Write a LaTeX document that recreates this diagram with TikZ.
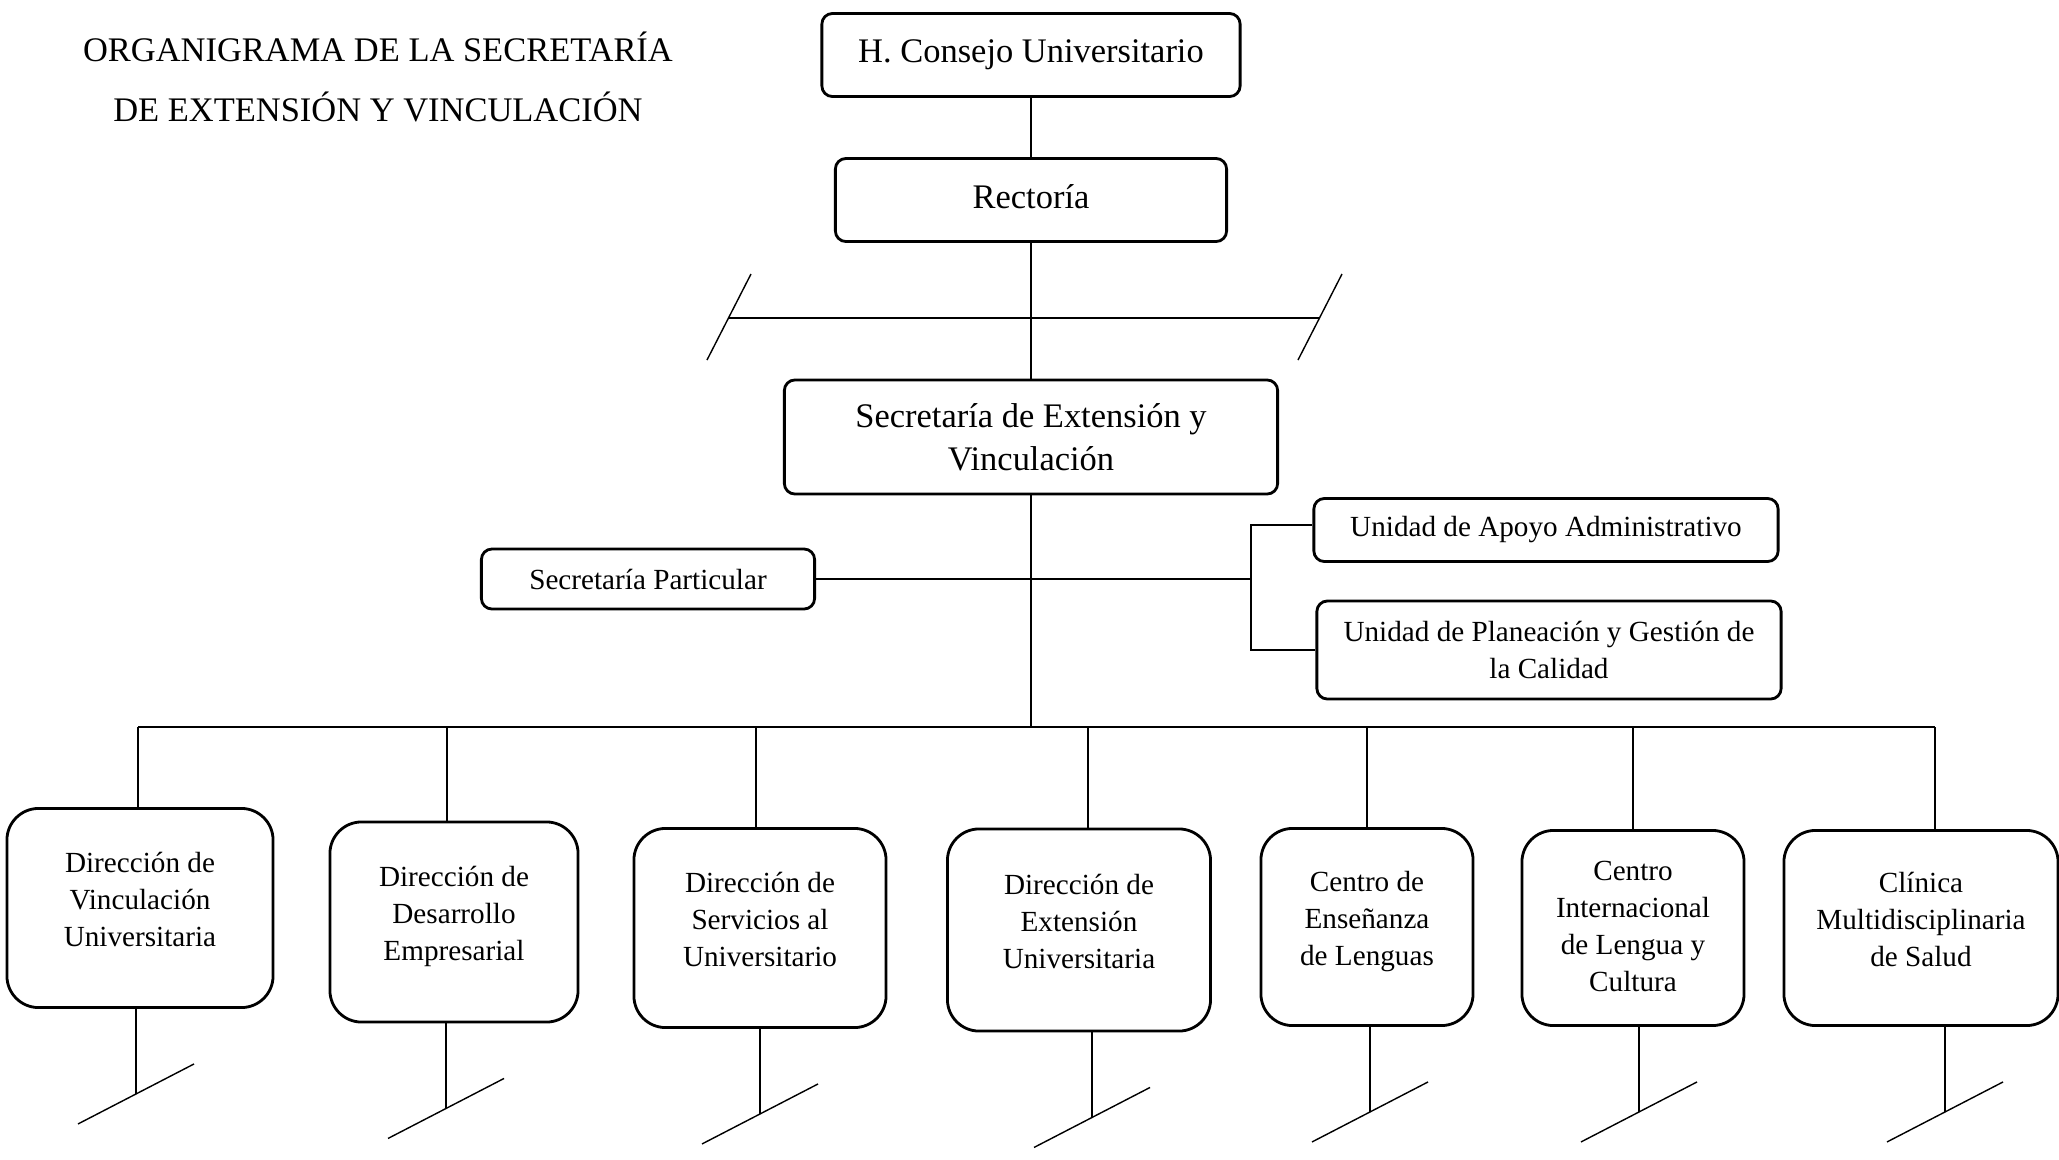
\documentclass[tikz,border=0pt]{standalone}
\usepackage{fontspec}
\setmainfont{Liberation Serif}
\begin{document}
\begin{tikzpicture}
    [
      x = 0.01cm, y = -0.01cm,
      mainbox/.style = {draw, line width = 0.8pt, rounded corners = 3pt, align = center, inner sep = 0pt,
                        text depth = 2pt, font = \fontsize{9.8}{12}\selectfont},
      unitbox/.style = {draw, line width = 0.8pt, rounded corners = 3pt, align = center, inner sep = 0pt,
                        font = \fontsize{8.3}{10.5}\selectfont},
      areabox/.style = {draw, line width = 0.8pt, rounded corners = 9pt, align = center, inner sep = 0pt,
                        text depth = 5pt, font = \fontsize{8.3}{10.5}\selectfont},
      link/.style = {line width = 0.4pt},
    ]

    \useasboundingbox (0,0) rectangle (2059,1160);

    \node[align=center, font=\fontsize{9.8}{17.2}\selectfont] (title) at (378,77)
      {ORGANIGRAMA DE LA SECRETARÍA\\DE EXTENSIÓN Y VINCULACIÓN};

    \node[mainbox, minimum width=4.18cm, minimum height=0.83cm] (consejo) at (1031,55) {H. Consejo Universitario};
    \node[mainbox, minimum width=3.91cm, minimum height=0.83cm] (rectoria) at (1031,200) {Rectoría};
    \node[mainbox, minimum width=4.93cm, minimum height=1.14cm, text depth=0pt] (secretaria) at (1031,437) {Secretaría de Extensión y\\Vinculación};

    \node[unitbox, minimum width=3.33cm, minimum height=0.60cm] (particular) at (648,579) {Secretaría Particular};
    \node[unitbox, minimum width=4.64cm, minimum height=0.63cm] (apoyo) at (1546,530) {Unidad de Apoyo Administrativo};
    \node[unitbox, minimum width=4.64cm, minimum height=0.98cm] (planeacion) at (1549,650) {Unidad de Planeación y Gestión de\\la Calidad};

    \node[areabox, minimum width=2.66cm, minimum height=1.99cm] (dirvin) at (140,908) {Dirección de\\Vinculación\\Universitaria};
    \node[areabox, minimum width=2.48cm, minimum height=2.00cm] (dirdes) at (454,922) {Dirección de\\Desarrollo\\Empresarial};
    \node[areabox, minimum width=2.52cm, minimum height=1.99cm] (dirser) at (760,928) {Dirección de\\Servicios al\\Universitario};
    \node[areabox, minimum width=2.63cm, minimum height=2.02cm] (dirext) at (1079,930) {Dirección de\\Extensión\\Universitaria};
    \node[areabox, minimum width=2.12cm, minimum height=1.97cm] (lenguas) at (1367,927) {Centro de\\Enseñanza\\de Lenguas};
    \node[areabox, minimum width=2.22cm, minimum height=1.95cm, text depth=1pt] (cilc) at (1633,928) {Centro\\Internacional\\de Lengua y\\Cultura};
    \node[areabox, minimum width=2.74cm, minimum height=1.95cm] (clinica) at (1921,928) {Clínica\\Multidisciplinaria\\de Salud};

    \coordinate (brkL) at (729,318);
    \coordinate (brkR) at (1320,318);
    \coordinate (fork) at (1251,579);
    \coordinate (bus) at (1031,727);

    \draw[link] (consejo) -- (rectoria);
    \draw[link] (rectoria) -- (secretaria);
    \draw[link] (brkL) -- (brkR);
    \draw[link] ([shift={(-22,42)}]brkL) -- ([shift={(22,-44)}]brkL);
    \draw[link] ([shift={(-22,42)}]brkR) -- ([shift={(22,-44)}]brkR);

    \draw[link] (secretaria) -- (bus);
    \draw[link] (particular) -- (fork);
    \draw[link] ([shift={(0,-5)}]apoyo.west) -| (fork) |- (planeacion.west);

    \draw[link] ([shift={(-2,0)}]dirvin.north |- bus) -- ([shift={(14,0)}]clinica.north |- bus);
    \foreach \area/\top/\leg in {dirvin/-2/-4, dirdes/-7/-8, dirser/-4/0, dirext/9/13,
                                 lenguas/0/3, cilc/0/6, clinica/14/24} {
      \draw[link] ([shift={(\top,0)}]\area.north |- bus) -- ([shift={(\top,0)}]\area.north);
      \draw[link] ([shift={(\leg,0)}]\area.south) -- ++(0,85) coordinate (\area-leg);
      \draw[link] ([shift={(-58,30)}]\area-leg) -- ([shift={(58,-30)}]\area-leg);
    }

  \end{tikzpicture}
\end{document}
